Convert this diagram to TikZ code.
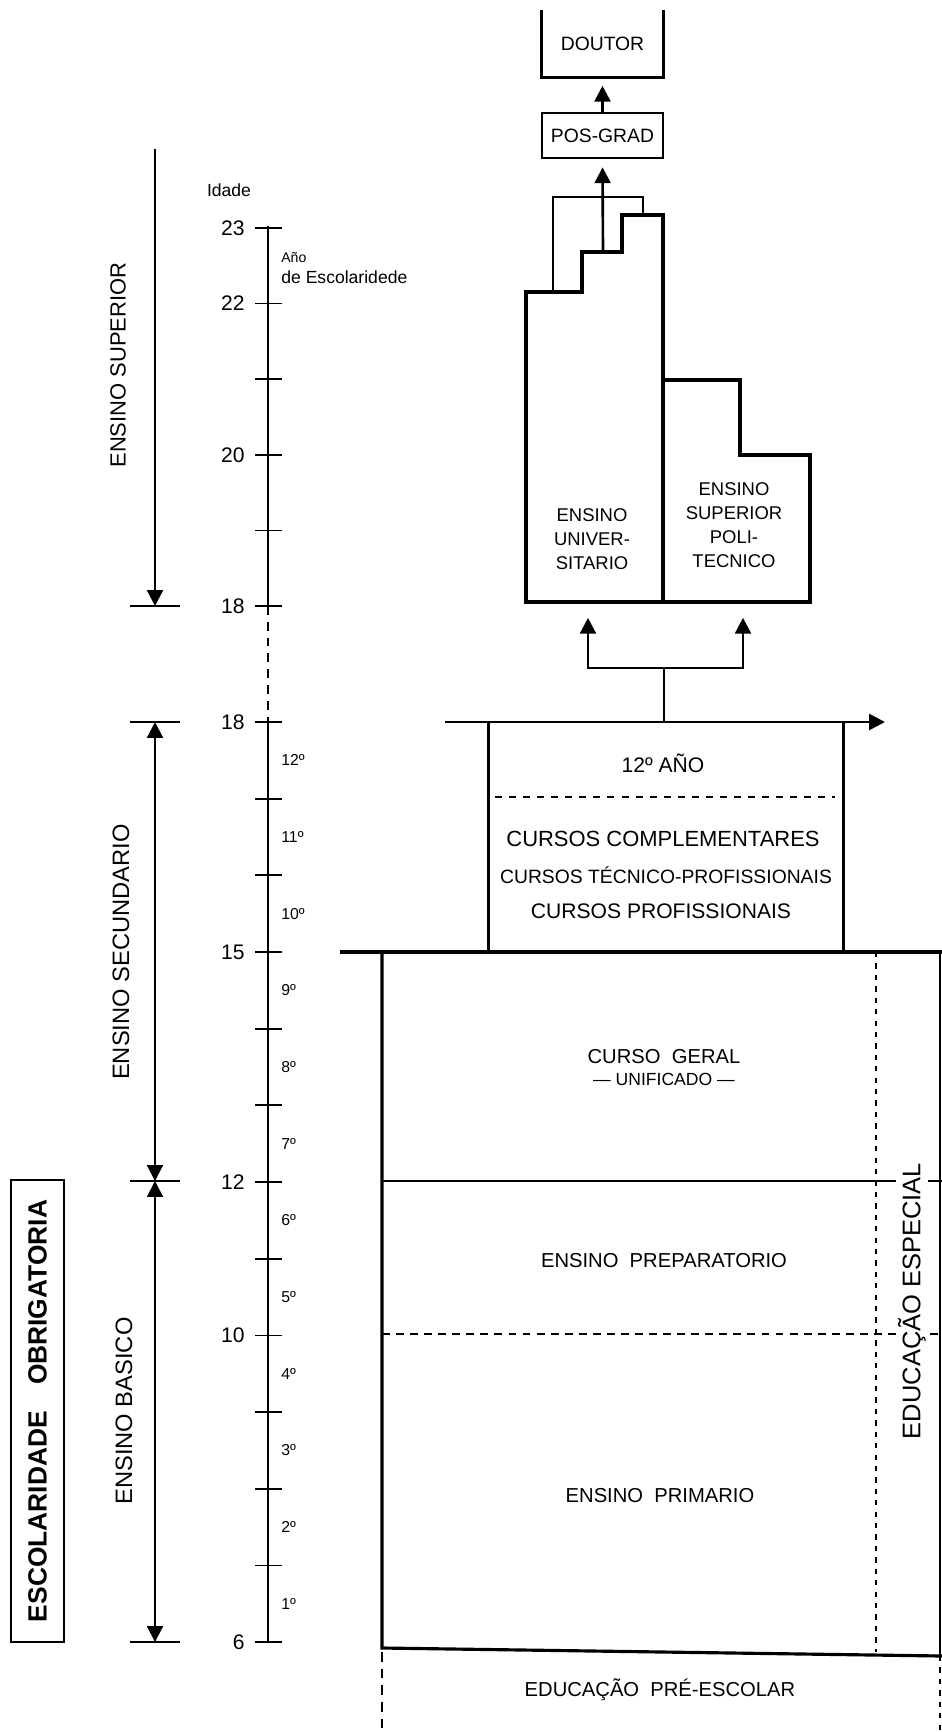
\documentclass[tikz,border=0pt]{standalone}
\usepackage{fontspec}
\setmainfont{Liberation Sans}
\usetikzlibrary{arrows.meta,positioning}
\newcommand{\lsize}[2]{\fontsize{#1}{#2}\selectfont}

\begin{document}
\begin{tikzpicture}[x=0.02cm,y=-0.02cm,>={Triangle[length=9pt,width=9pt]},
      heavy/.style={line width=1.8pt,line join=miter},
      flow/.style={->,line width=1.5pt},
      axis/.style={line width=1.2pt},
      tick/.style={line width=1pt},
      span/.style={line width=1.2pt},
      age/.style={anchor=east,inner sep=0pt,font=\lsize{12}{14}},
      grade/.style={anchor=west,inner sep=0pt,font=\lsize{9}{11}},
      block/.style={align=center,inner sep=0pt,font=\lsize{11.5}{14}},
      side/.style={rotate=90,inner sep=0pt,font=\lsize{13.5}{16}}]
    \useasboundingbox (0,0) rectangle (942,1732);

    % escala de idades
    \draw[axis] (268,226) -- (268,606);
    \draw[axis,dash pattern=on 5pt off 4pt] (268,606) -- (268,722);
    \draw[axis] (268,722) -- (268,1642);
    \foreach \a in {18,...,23}
      \draw[tick] (255,{606-(\a-18)*75.6}) -- (282,{606-(\a-18)*75.6});
    \foreach \a in {6,...,18}
      \draw[tick] (255,{722+(18-\a)*76.67}) -- (282,{722+(18-\a)*76.67});
    \foreach \a in {18,20,22,23}
      \node[age] (hi\a) at (245,{606-(\a-18)*75.6}) {\a};
    \foreach \a in {6,10,12,15,18}
      \node[age] (lo\a) at (245,{722+(18-\a)*76.67}) {\a};
    \foreach \g in {1,...,12}
      \node[grade] (ano\g) at (281,{722+(12.5-\g)*76.67}) {\g º};
    \node[font=\lsize{10}{12}] (idade) at (229,190) {Idade};
    \node[anchor=west,inner sep=0pt,font=\lsize{8}{10}] (anoesc) at (281,258) {Año};
    \node[anchor=west,inner sep=0pt,font=\lsize{10}{12}] (escol) at (281,277) {de Escolaridede};

    % niveis de ensino
    \coordinate (sup0) at (155,149);
    \coordinate (sup1) at (155,606);
    \coordinate (sec0) at (155,722);
    \coordinate (sec1) at (155,1181);
    \coordinate (bas1) at (155,1642);
    \draw[span] (130,606) -- (180,606);
    \draw[span] (130,722) -- (180,722);
    \draw[span] (130,1181) -- (180,1181);
    \draw[span] (130,1642) -- (180,1642);
    \draw[span,->] (sup0) -- (sup1);
    \draw[span,<->] (sec0) -- (sec1);
    \draw[span,<->] (sec1) -- (bas1);
    \node[side,font=\lsize{12.5}{15}] (sup) at (118,365) {ENSINO SUPERIOR};
    \node[side] (sec) at (121,952) {ENSINO SECUNDARIO};
    \node[side] (bas) at (124,1411) {ENSINO BASICO};
    \node[draw,line width=1.3pt,rotate=90,minimum width=9.24cm,minimum height=1.06cm,
          font=\bfseries\lsize{15}{18}] (obrig) at (37.5,1411) {ESCOLARIDADE\quad OBRIGATORIA};

    % ensino superior
    \draw[heavy] (526,602) -- (526,292) -- (582,292) -- (582,252) -- (622,252) -- (622,215)
          -- (663,215) -- (663,602) -- cycle;
    \draw[heavy] (663,380) -- (740,380) -- (740,455) -- (810,455) -- (810,602) -- (663,602);
    \draw[line width=0.9pt] (553,292) -- (553,197) -- (643,197) -- (643,215);
    \node[block,font=\lsize{10.5}{13.6}] (univ) at (592,539) {ENSINO\\UNIVER-\\SITARIO};
    \node[block,font=\lsize{10.5}{13.6}] (poli) at (734,525) {ENSINO\\SUPERIOR\\POLI-\\TECNICO};
    \node[draw,line width=1.6pt,minimum width=2.42cm,minimum height=0.9cm,inner sep=0pt,
          font=\lsize{11}{13}] (posgrad) at (602.5,135.5) {POS-GRAD};
    \node[minimum width=2.42cm,minimum height=1.34cm,inner sep=0pt,
          font=\lsize{11}{13}] (doutor) at (602.5,44) {DOUTOR};
    \draw[heavy] (doutor.north west) -- (doutor.south west) -- (doutor.south east) -- (doutor.north east);
    \coordinate (univtop) at (603,252);
    \draw[flow,shorten >=4.5pt] (univtop) -- (posgrad.south);
    \draw[flow,shorten >=4.5pt] (posgrad.north) -- (doutor.south);

    % 12 ano e cursos
    \node[minimum width=7.08cm,minimum height=4.6cm,inner sep=0pt] (ano12) at (666,837) {};
    \coordinate (outL) at (445,722);
    \coordinate (outR) at (885,722);
    \coordinate (split) at (664,668);
    \coordinate (univbase) at (588,602);
    \coordinate (polibase) at (743,602);
    \draw[flow] (outL) -- (outR);
    \draw[heavy] (ano12.north west) -- (ano12.south west);
    \draw[heavy] (ano12.north east) -- (ano12.south east);
    \draw[line width=1.5pt] (664,722) -- (split);
    \draw[flow,shorten >=9pt] (split) -| (univbase);
    \draw[flow,shorten >=9pt] (split) -| (polibase);
    \node[block,font=\lsize{12}{14}] (ano) at (663,763) {12º AÑO};
    \draw[line width=1pt,dash pattern=on 4pt off 4pt] (495,797) -- (835,797);
    \node[block,font=\lsize{12.5}{15}] (compl) at (663,839) {CURSOS COMPLEMENTARES};
    \node[block,font=\lsize{11}{13}] (tecn) at (666,875) {CURSOS TÉCNICO-PROFISSIONAIS};
    \node[block,font=\lsize{12}{14}] (prof) at (661,911) {CURSOS PROFISSIONAIS};

    % ensino basico e pre-escolar
    \draw[heavy] (340,952) -- (942,952);
    \draw[heavy] (382,952) -- (382,1648) -- (942,1656);
    \draw[line width=1.4pt] (382,1181) -- (942,1181);
    \draw[line width=1.4pt,dash pattern=on 4.5pt off 3.5pt] (382,1334) -- (942,1334);
    \draw[line width=1pt,dash pattern=on 3pt off 3.5pt] (876,952) -- (876,1652);
    \draw[line width=1.3pt] (940,952) -- (940,1656);
    \draw[line width=1.7pt,dash pattern=on 5.5pt off 4pt] (382,1652) -- (382,1732);
    \draw[line width=1pt,dash pattern=on 3pt off 3.5pt] (940,1656) -- (940,1732);
    \node[block] (geral) at (664,1057) {CURSO\ \ GERAL};
    \node[block,font=\lsize{10}{12},below=5pt of geral] (unif) {— UNIFICADO —};
    \node[block] (prep) at (664,1261) {ENSINO\ \ PREPARATORIO};
    \node[block] (prim) at (660,1496) {ENSINO\ \ PRIMARIO};
    \node[block] (preesc) at (660,1690) {EDUCAÇÃO\ \ PRÉ-ESCOLAR};
    \node[side,fill=white,inner sep=1pt,font=\lsize{14.5}{17}] (especial) at (912,1301) {EDUCAÇÃO ESPECIAL};
\end{tikzpicture}
\end{document}
